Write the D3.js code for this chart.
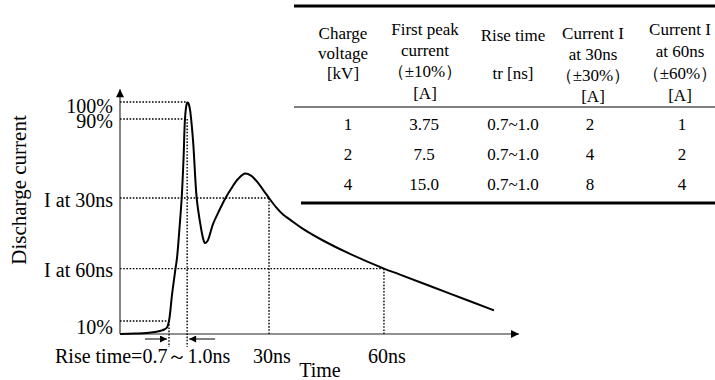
<!DOCTYPE html>
<html><head><meta charset="utf-8">
<script src="https://cdn.jsdelivr.net/npm/d3@7"></script>
<style>html,body{margin:0;padding:0;background:#fff}svg{display:block}</style>
</head><body>
<svg id="chart" width="715" height="380"></svg>
<script>
// ---------- data ----------
const timeNs = [-9, -5.1, -2.0, 0.1, 1.4, 2.5, 3.25, 3.77, 4.55, 5.34, 5.86, 6.51, 7.08, 7.55, 7.94, 8.28, 8.54, 8.85, 9.25, 10.03, 10.99, 11.85, 12.63, 13.15, 13.8, 15.24, 16.8, 18.37, 19.93, 21.76, 23.58, 25.15, 26.97, 28.53, 29.84, 31.66, 33.49, 35.31, 38.7, 43.91, 50.95, 59.8, 63.98, 77.0, 88.48];
const current = [0, 0.2, 0.43, 0.86, 1.3, 1.94, 2.8, 5.6, 16.8, 26.7, 32.8, 45.7, 58.6, 75, 92.7, 98.3, 99.8, 99.4, 96.6, 83.6, 58.6, 48.3, 41.4, 39.2, 40.1, 47.4, 53.0, 58.2, 62.5, 66.8, 69.2, 68.3, 65.1, 61.6, 58.6, 54.7, 51.5, 49.3, 45.3, 40.3, 34.5, 28.2, 25.6, 17.4, 10.2];

const levelLabels = ["100%", "90%", "I at 30ns", "I at 60ns", "10%"];
const levelValues = [100, 92.7, 58.6, 28.2, 5.6];
const levelTimes  = [8.5, 8.5, 29.84, 59.8, 3.77];

const timeTickLabels = ["30ns", "60ns"];
const timeTickValues = [29.84, 59.8];
const riseStart = 3.77, riseEnd = 8.5;
const riseLabel = "Rise time=0.7\uFF5E1.0ns";
const xTitle = "Time";
const yTitle = "Discharge current";

const tableHeaders = [
  ["Charge", "voltage", "[kV]"],
  ["First peak", "current", "\uFF08\u00B110%\uFF09", "[A]"],
  ["Rise time", "tr [ns]"],
  ["Current I", "at 30ns", "\uFF08\u00B130%\uFF09", "[A]"],
  ["Current I", "at 60ns", "\uFF08\u00B160%\uFF09", "[A]"]
];
const chargeVoltage = ["1", "2", "4"];
const firstPeak     = ["3.75", "7.5", "15.0"];
const riseTime      = ["0.7~1.0", "0.7~1.0", "0.7~1.0"];
const currentAt30   = ["2", "4", "8"];
const currentAt60   = ["1", "2", "4"];

// ---------- layout ----------
const FONT = "'Liberation Serif','Times New Roman',serif";
const svg = d3.select("#chart");
const x = d3.scaleLinear().domain([-9, 95]).range([120, 519]);
const y = d3.scaleLinear().domain([0, 100]).range([334, 102]);

// arrow markers
const defs = svg.append("defs");
defs.append("marker").attr("id", "axArrow").attr("viewBox", "0 0 10 10")
  .attr("refX", 10).attr("refY", 5).attr("markerWidth", 9).attr("markerHeight", 8)
  .attr("markerUnits", "userSpaceOnUse").attr("orient", "auto")
  .append("path").attr("d", "M0,0L10,5L0,10Z").attr("fill", "#000");
defs.append("marker").attr("id", "smArrow").attr("viewBox", "0 0 10 10")
  .attr("refX", 10).attr("refY", 5).attr("markerWidth", 10).attr("markerHeight", 7)
  .attr("markerUnits", "userSpaceOnUse").attr("orient", "auto")
  .append("path").attr("d", "M0,0L10,5L0,10Z").attr("fill", "#000");

const dotted = {stroke: "#000", "stroke-width": 1.4, "stroke-dasharray": "1.6 1.6"};
function applyAttrs(sel, o){ for (const k in o) sel.attr(k, o[k]); return sel; }

// horizontal dotted level lines
levelValues.forEach((v, i) => {
  applyAttrs(svg.append("line")
    .attr("x1", x(-9)).attr("x2", x(levelTimes[i]))
    .attr("y1", y(v)).attr("y2", y(v)), dotted);
});
// vertical dotted lines
const belowAxis = y(0) + 13;
applyAttrs(svg.append("line").attr("x1", x(riseStart)).attr("x2", x(riseStart))
  .attr("y1", y(levelValues[4])).attr("y2", belowAxis), dotted);
applyAttrs(svg.append("line").attr("x1", x(riseEnd)).attr("x2", x(riseEnd))
  .attr("y1", y(levelValues[1])).attr("y2", belowAxis), dotted);
timeTickValues.forEach((t, i) => {
  applyAttrs(svg.append("line").attr("x1", x(t)).attr("x2", x(t))
    .attr("y1", y(levelValues[i + 2])).attr("y2", y(0)), dotted);
});

// axes
svg.append("line").attr("x1", x(-9)).attr("x2", x(-9)).attr("y1", y(0)).attr("y2", y(105.5))
  .attr("stroke", "#222").attr("stroke-width", 1.1).attr("marker-end", "url(#axArrow)");
svg.append("line").attr("x1", x(-9)).attr("x2", x(95)).attr("y1", y(0)).attr("y2", y(0))
  .attr("stroke", "#222").attr("stroke-width", 1.1).attr("marker-end", "url(#axArrow)");

// waveform
const pts = timeNs.map((t, i) => [t, current[i]]);
svg.append("path").datum(pts)
  .attr("d", d3.line().x(d => x(d[0])).y(d => y(d[1])).curve(d3.curveCatmullRom.alpha(0.5)))
  .attr("fill", "none").attr("stroke", "#000").attr("stroke-width", 2).attr("stroke-linejoin", "round");

// rise time arrows
const arrY = y(0) + 5;
svg.append("line").attr("x1", x(riseStart) - 24).attr("x2", x(riseStart) - 2)
  .attr("y1", arrY).attr("y2", arrY).attr("stroke", "#000").attr("stroke-width", 1)
  .attr("marker-end", "url(#smArrow)");
svg.append("line").attr("x1", x(riseEnd) + 28).attr("x2", x(riseEnd) + 2)
  .attr("y1", arrY).attr("y2", arrY).attr("stroke", "#000").attr("stroke-width", 1)
  .attr("marker-end", "url(#smArrow)");

// text helpers
function txt(s, px, py, size, anchor){
  return svg.append("text").attr("x", px).attr("y", py).text(s)
    .attr("font-family", FONT).attr("font-size", size)
    .attr("text-anchor", anchor || "middle").attr("dominant-baseline", "central").attr("fill", "#000");
}

// y level labels
const labelDy = [4, 2, 2, 1, 6];
levelLabels.forEach((s, i) => txt(s, 113, y(levelValues[i]) + labelDy[i], 20, "end"));

// x labels
txt(riseLabel, 55, 356, 20, "start");
timeTickLabels.forEach((s, i) => txt(s, x(timeTickValues[i]) + 3, 356, 20));
txt(xTitle, 320, 370, 20);
svg.append("text").text(yTitle).attr("transform", "translate(19,190) rotate(-90)")
  .attr("font-family", FONT).attr("font-size", 21).attr("text-anchor", "middle")
  .attr("dominant-baseline", "central");

// ---------- table ----------
svg.append("line").attr("x1", 294).attr("x2", 715).attr("y1", 6).attr("y2", 6).attr("stroke", "#000").attr("stroke-width", 3.2);
svg.append("line").attr("x1", 294).attr("x2", 715).attr("y1", 107).attr("y2", 107).attr("stroke", "#000").attr("stroke-width", 1.2);
svg.append("line").attr("x1", 301).attr("x2", 715).attr("y1", 203).attr("y2", 203).attr("stroke", "#000").attr("stroke-width", 3.2);

const colX = [343, 425, 513, 593, 680];
const headY = [[33, 53, 73], [29, 50, 71, 93], [35, 73], [33, 54, 75, 96], [29, 51, 73, 95]];
tableHeaders.forEach((lines, c) => lines.forEach((s, j) => txt(s, colX[c], headY[c][j], 17)));

const rowY = [124, 154, 184];
const dataCols = [chargeVoltage, firstPeak, riseTime, currentAt30, currentAt60];
const dataX = [348, 424, 513, 590, 682];
dataCols.forEach((col, c) => col.forEach((s, r) => txt(s, dataX[c], rowY[r], 17)));
</script>
</body></html>
